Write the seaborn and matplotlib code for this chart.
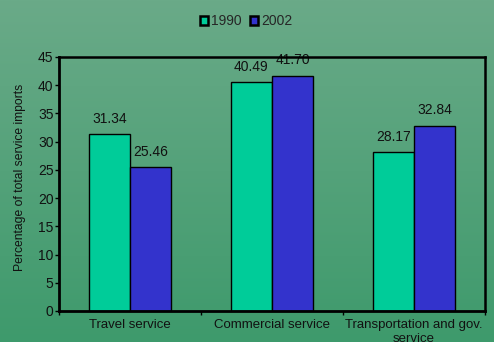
import numpy as np
import pandas as pd
import matplotlib
matplotlib.use("Agg")
import matplotlib.pyplot as plt
from matplotlib.colors import LinearSegmentedColormap
import seaborn as sns

categories = ["Travel service", "Commercial service", "Transportation and gov.\nservice"]
years = ["1990", "2002"]
values_1990 = [31.34, 40.49, 28.17]
values_2002 = [25.46, 41.70, 32.84]
yticks = [0, 5, 10, 15, 20, 25, 30, 35, 40, 45]

df = pd.DataFrame({
    "category": categories * 2,
    "year": [years[0]] * 3 + [years[1]] * 3,
    "value": values_1990 + values_2002,
})

sns.set_style("white")
plt.rcParams["font.family"] = ["Liberation Sans", "DejaVu Sans"]

fig = plt.figure(figsize=(4.94, 3.42), dpi=100)

# gradient background
bg = fig.add_axes([0, 0, 1, 1], zorder=-10)
grad = np.linspace(0, 1, 256).reshape(-1, 1)
cmap = LinearSegmentedColormap.from_list("g", ["#6aaa88", "#3e9a6c"])
bg.imshow(grad, aspect="auto", cmap=cmap, extent=[0, 1, 0, 1])
bg.axis("off")

ax = fig.add_axes([59 / 494, 31 / 342, 426 / 494, 254 / 342])
ax.set_facecolor("none")

palette = {"1990": "#00cc99", "2002": "#3333cc"}
sns.barplot(data=df, x="category", y="value", hue="year", hue_order=years,
            order=categories, palette=palette, width=0.58, gap=0,
            edgecolor="black", linewidth=1, saturation=1, ax=ax, legend=True)

for cont in ax.containers:
    ax.bar_label(cont, fmt="%.2f", padding=6, fontsize=10, color="#111111")

ax.set_ylim(0, 45)
ax.set_xlim(-0.5, 2.5)
ax.set_yticks(yticks)
ax.set_yticklabels([str(t) for t in yticks], fontsize=10, color="#111111")
ax.tick_params(axis="y", direction="out", length=3, width=1, pad=1, left=True, color="black")
ax.tick_params(axis="x", which="major", length=0, pad=6, labelsize=9.5, labelcolor="#111111")
ax.set_xticks([-0.5, 0.5, 1.5, 2.5], minor=True)
ax.tick_params(axis="x", which="minor", direction="out", length=3, width=1, bottom=True, color="black")
ax.set_xlabel("")
ax.set_ylabel("Percentage of total service imports", fontsize=8.7, color="#111111")
ax.yaxis.set_label_coords(-0.078, 0.526)

for s in ["left", "bottom"]:
    ax.spines[s].set_linewidth(2)
    ax.spines[s].set_color("black")
for s in ["top", "right"]:
    ax.spines[s].set_linewidth(1.8)
    ax.spines[s].set_color("black")
    ax.spines[s].set_visible(True)
for s in ax.spines.values():
    s.set_zorder(5)

leg = ax.legend(loc="center", bbox_to_anchor=(0.439, 1.14), ncol=2, frameon=False,
                fontsize=10, handlelength=0.6, handleheight=0.6, handletextpad=0.2,
                columnspacing=0.6, borderaxespad=0, borderpad=0)
for h in leg.legend_handles:
    h.set_edgecolor("black")
    h.set_linewidth(1.8)

fig.savefig("out.png", dpi=100)
